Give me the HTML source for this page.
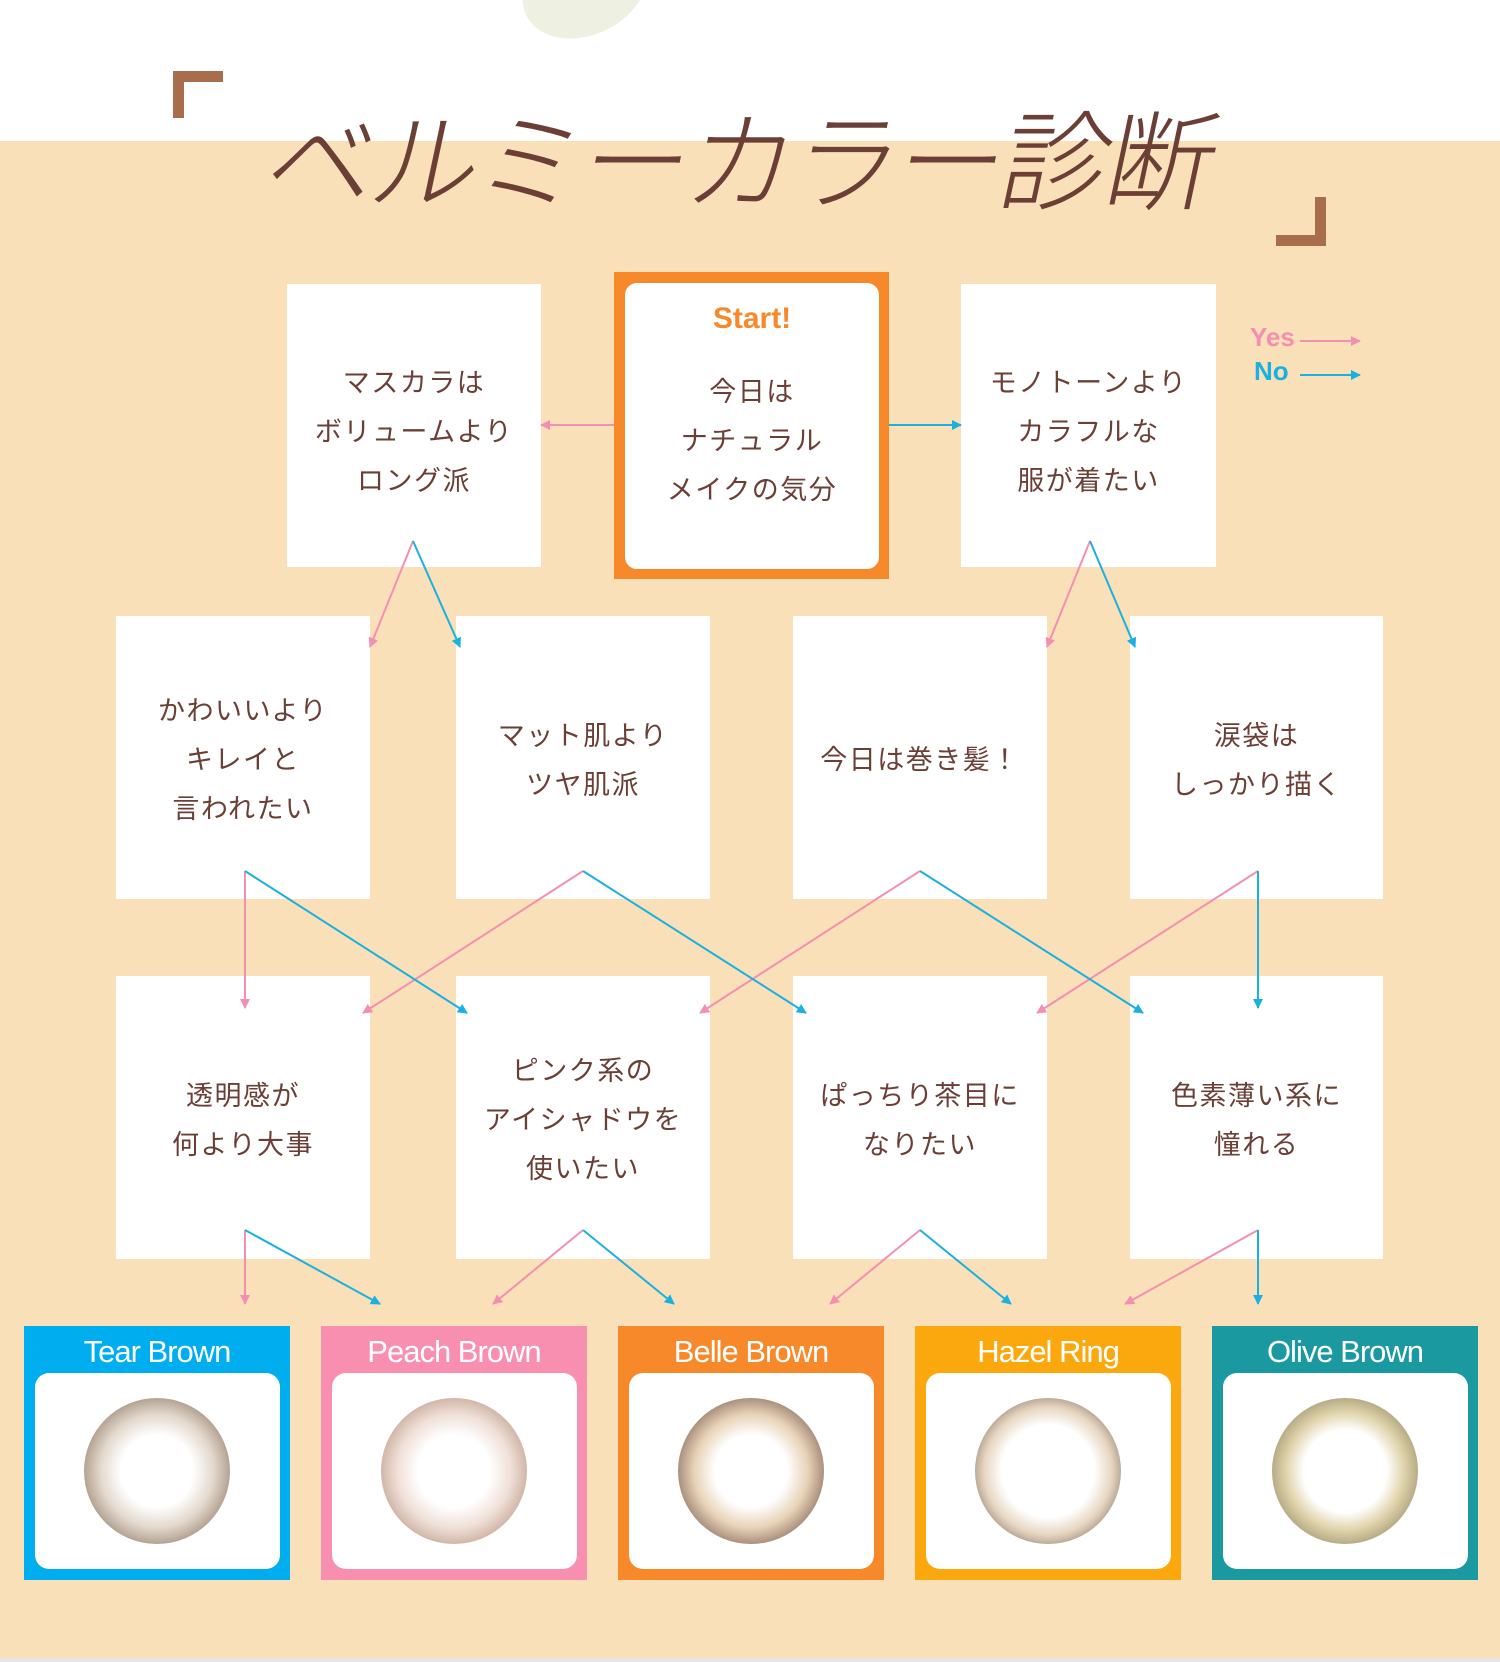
<!DOCTYPE html>
<html><head><meta charset="utf-8"><style>
*{margin:0;padding:0;box-sizing:border-box}
body{width:1500px;height:1662px;position:relative;background:#fae0b8;overflow:hidden;font-family:"Liberation Sans","Noto Sans CJK JP",sans-serif;color:#6b3f36}
.top{position:absolute;left:0;top:0;width:1500px;height:141px;background:#fff}
.blob{position:absolute;left:520px;top:-60px;width:130px;height:95px;border-radius:50%;background:#eef0e2;transform:rotate(-25deg)}
.br{position:absolute;background:#a86d4b}
.title{position:absolute;left:270px;top:80px;width:980px;font-size:108px;font-weight:300;letter-spacing:-3px;color:#6b3f36;font-family:"Noto Sans CJK JP",sans-serif;transform:skewX(-12deg);white-space:nowrap;line-height:150px}
.box{position:absolute;background:#fff;display:flex;align-items:center;justify-content:center;text-align:center;font-size:27px;line-height:49px;letter-spacing:1.5px;font-family:"Noto Sans CJK JP",sans-serif}
.card{position:absolute;top:1326px;width:266px;height:254px}
.card .t{position:absolute;top:8px;width:100%;text-align:center;color:#fff;font-size:31px;font-family:"Liberation Sans",sans-serif;letter-spacing:-1px}
.card .w{position:absolute;left:11px;top:47px;width:245px;height:196px;background:#fff;border-radius:14px}
.lens{position:absolute;left:49px;top:25px;width:146px;height:146px;border-radius:50%}
</style></head><body>
<div class="top"></div>
<div class="blob"></div>
<div class="br" style="left:173px;top:71px;width:50px;height:11px"></div>
<div class="br" style="left:173px;top:71px;width:11px;height:47px"></div>
<div class="br" style="left:1276px;top:235px;width:50px;height:11px"></div>
<div class="br" style="left:1315px;top:197px;width:11px;height:49px"></div>
<div class="title">ベルミーカラー診断</div>

<div class="box" style="left:287px;top:284px;width:254px;height:283px;padding-top:8px">マスカラは<br>ボリュームより<br>ロング派</div>
<div style="position:absolute;left:614px;top:272px;width:275px;height:307px;background:#f7892a"></div>
<div style="position:absolute;left:625px;top:283px;width:254px;height:286px;background:#fff;border-radius:12px"></div>
<div style="position:absolute;left:625px;top:302px;width:254px;text-align:center;color:#f7892a;font-size:30px;font-weight:bold;font-family:'Liberation Sans',sans-serif">Start!</div>
<div style="position:absolute;left:625px;top:365px;width:254px;text-align:center;font-size:27px;line-height:49px;letter-spacing:1.5px;font-family:'Noto Sans CJK JP',sans-serif">今日は<br>ナチュラル<br>メイクの気分</div>
<div class="box" style="left:961px;top:284px;width:255px;height:283px;padding-top:8px">モノトーンより<br>カラフルな<br>服が着たい</div>
<div style="position:absolute;left:1250px;top:322px;color:#f48fb1;font-size:26px;font-weight:bold;font-family:'Liberation Sans',sans-serif">Yes</div>
<div style="position:absolute;left:1254px;top:356px;color:#1ab0e0;font-size:26px;font-weight:bold;font-family:'Liberation Sans',sans-serif">No</div>

<div class="box" style="left:116px;top:616px;width:254px;height:283px">かわいいより<br>キレイと<br>言われたい</div>
<div class="box" style="left:456px;top:616px;width:254px;height:283px">マット肌より<br>ツヤ肌派</div>
<div class="box" style="left:793px;top:616px;width:254px;height:283px">今日は巻き髪！</div>
<div class="box" style="left:1130px;top:616px;width:253px;height:283px">涙袋は<br>しっかり描く</div>

<div class="box" style="left:116px;top:976px;width:254px;height:283px">透明感が<br>何より大事</div>
<div class="box" style="left:456px;top:976px;width:254px;height:283px">ピンク系の<br>アイシャドウを<br>使いたい</div>
<div class="box" style="left:793px;top:976px;width:254px;height:283px">ぱっちり茶目に<br>なりたい</div>
<div class="box" style="left:1130px;top:976px;width:253px;height:283px">色素薄い系に<br>憧れる</div>

<div class="card" style="left:24px;background:#00aeef"><div class="t">Tear Brown</div><div class="w"><div class="lens" style="background:radial-gradient(circle,#fff 0,#fff 35%,#e3d8cc 55%,#a69484 75%,#c9c0b9 85%,rgba(255,255,255,0) 96%)"></div></div></div>
<div class="card" style="left:321px;background:#f98fb0"><div class="t">Peach Brown</div><div class="w"><div class="lens" style="background:radial-gradient(circle,#fff 0,#fff 35%,#f0e0d8 55%,#c6a898 76%,#e3d6cf 86%,rgba(255,255,255,0) 96%)"></div></div></div>
<div class="card" style="left:618px;background:#f7892a"><div class="t">Belle Brown</div><div class="w"><div class="lens" style="background:radial-gradient(circle,#fff 0,#fff 35%,#e8d3b8 55%,#95796a 76%,#c9bcb3 86%,rgba(255,255,255,0) 96%)"></div></div></div>
<div class="card" style="left:915px;background:#fba80e"><div class="t">Hazel Ring</div><div class="w"><div class="lens" style="background:radial-gradient(circle,#fff 0,#fff 45%,#e6d6c0 62%,#8c7c70 80%,#e0dbdb 88%,rgba(255,255,255,0) 97%)"></div></div></div>
<div class="card" style="left:1212px;background:#1a9aa0"><div class="t">Olive Brown</div><div class="w"><div class="lens" style="background:radial-gradient(circle,#fff 0,#fff 40%,#e3d7b0 56%,#a89c76 76%,#d6d1c8 86%,rgba(255,255,255,0) 96%)"></div></div></div>

<div style="position:absolute;left:0;top:1658px;width:1500px;height:4px;background:#e5e5e5"></div>

<svg width="1500" height="1662" style="position:absolute;left:0;top:0" xmlns="http://www.w3.org/2000/svg">
<defs>
<marker id="p" markerWidth="10" markerHeight="10" refX="9" refY="5" orient="auto" markerUnits="userSpaceOnUse"><path d="M0,0 L10,5 L0,10z" fill="#f48fb1"/></marker>
<marker id="b" markerWidth="10" markerHeight="10" refX="9" refY="5" orient="auto" markerUnits="userSpaceOnUse"><path d="M0,0 L10,5 L0,10z" fill="#1ab0e0"/></marker>
</defs>
<g fill="none" stroke-width="2">
<g stroke="#f48fb1" marker-end="url(#p)">
<path d="M1300 341 H1360"/>
<path d="M614 425 H541"/>
<path d="M413 541 L370 647"/>
<path d="M1090 541 L1047 647"/>
<path d="M245 871 L245 1008"/>
<path d="M583 871 L363 1013"/>
<path d="M920 871 L700 1013"/>
<path d="M1258 871 L1037 1013"/>
<path d="M245 1230 L245 1304"/>
<path d="M583 1230 L493 1304"/>
<path d="M920 1230 L830 1304"/>
<path d="M1258 1230 L1125 1304"/>
</g>
<g stroke="#1ab0e0" marker-end="url(#b)">
<path d="M1300 375 H1360"/>
<path d="M889 425 H961"/>
<path d="M413 541 L460 647"/>
<path d="M1090 541 L1135 647"/>
<path d="M245 871 L467 1013"/>
<path d="M583 871 L806 1013"/>
<path d="M920 871 L1143 1013"/>
<path d="M1258 871 L1258 1008"/>
<path d="M245 1230 L380 1304"/>
<path d="M583 1230 L674 1304"/>
<path d="M920 1230 L1011 1304"/>
<path d="M1258 1230 L1258 1304"/>
</g>
</g>
</svg>
</body></html>
